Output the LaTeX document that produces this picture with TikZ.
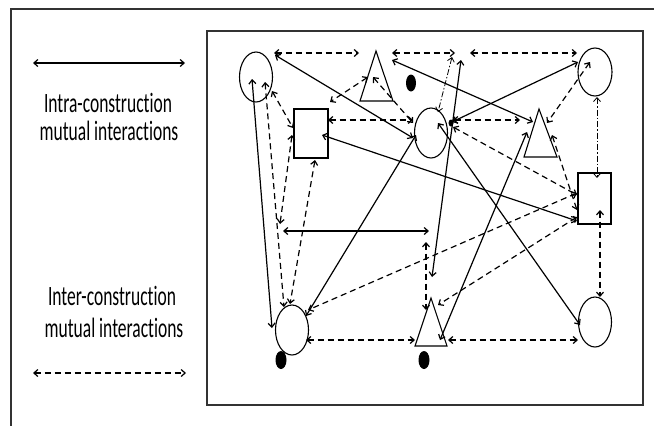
\documentclass[tikz,border=0pt]{standalone}
\usepackage{fontspec}
\setmainfont[Ligatures={NoCommon}]{Carlito}
\usetikzlibrary{arrows.meta,shapes.geometric}
\newcommand\mylink[4]{\coordinate (#2a) at #3; \coordinate (#2b) at #4; \draw[#1] (#2a) -- (#2b);}
\begin{document}
\begin{tikzpicture}[x=1pt,y=-1pt,
  every node/.style={inner sep=0pt, outer sep=0pt},
  shp/.style={draw, line width=1.1pt},
  ell/.style={shp, ellipse, minimum width=33pt, minimum height=50pt},
  box/.style={shp, rectangle, minimum width=34pt, minimum height=49pt},
  blob/.style={fill=black, ellipse, minimum width=10pt, minimum height=17pt},
  conn/.style={line width=1.2pt, {Straight Barb[length=4pt,width=7pt]}-{Straight Barb[length=4pt,width=7pt]}},
  sol/.style={conn},
  dsh/.style={conn, dash pattern=on 6pt off 4pt},
  dd/.style={conn, line width=0.8pt, dash pattern=on 6pt off 2pt on 1.5pt off 2pt},
  lbl/.style={font=\fontsize{17.5}{20}\selectfont, anchor=base}
]
\useasboundingbox (0,0) rectangle (654,426);
% frames
\coordinate (o1) at (11,426); \coordinate (o2) at (11,9); \coordinate (o3) at (654,9);
\draw[line width=1.4pt, black!80] (o1) -- (o2) -- (o3);
\coordinate (f1) at (207,31); \coordinate (f2) at (643,405);
\draw[line width=1.4pt, black!80] (f1) rectangle (f2);

% legend
\mylink{sol}{la}{(33,63)}{(185,63)}
\node[lbl] (l1) at (108,112) {\scalebox{1}[1.6]{Intra-construction}};
\node[lbl] (l2) at (109,140) {\scalebox{1}[1.6]{mutual interactions}};
\node[lbl] (l3) at (112,305) {\scalebox{1}[1.6]{Inter-construction}};
\node[lbl] (l4) at (114,337) {\scalebox{1}[1.6]{mutual interactions}};
\mylink{dsh}{lb}{(33,373)}{(186,373)}

% shapes
\node[ell] (C1) at (256,77) {};
\node[ell] (C2) at (431,133) {};
\node[ell, minimum width=34pt, minimum height=48pt] (C3) at (595,72) {};
\node[ell] (C4) at (292,330) {};
\node[ell] (C5) at (595,322) {};
\node[box] (R1) at (311,133.5) {};
\node[box, minimum width=33pt, minimum height=51pt] (R2) at (594.5,198.5) {};
\coordinate (T1a) at (376,51); \coordinate (T1b) at (393,101); \coordinate (T1c) at (360,101);
\draw[shp] (T1a) -- (T1b) -- (T1c) -- cycle;
\coordinate (T2a) at (539,109); \coordinate (T2b) at (557,157); \coordinate (T2c) at (524,157);
\draw[shp] (T2a) -- (T2b) -- (T2c) -- cycle;
\coordinate (T3a) at (431,298); \coordinate (T3b) at (447,346); \coordinate (T3c) at (415,346);
\draw[shp] (T3a) -- (T3b) -- (T3c) -- cycle;
\node[blob] (D1) at (411,83) {};
\node[blob, minimum width=11pt, minimum height=18pt] (D2) at (281,360) {};
\node[blob, minimum width=11pt, minimum height=18pt] (D3) at (424,360) {};
\node[fill=black, ellipse, minimum width=5pt, minimum height=7pt] (P) at (451,123) {};

% connectors
\mylink{dsh}{k1}{(274,53)}{(359,53)}
\mylink{dsh}{k2}{(392,53)}{(455,53)}
\mylink{dsh}{k3}{(470,53)}{(577,53)}
\mylink{dd}{k4}{(452,57)}{(438,112)}
\mylink{sol}{k5}{(275,55)}{(413,138)}
\mylink{dsh}{k6}{(272,91)}{(293,128)}
\mylink{dsh}{k7}{(328,120)}{(413,120)}
\mylink{dsh}{k8}{(368,77)}{(330,102)}
\mylink{dsh}{k9}{(373,77)}{(413,123)}
\mylink{sol}{k10}{(322,135)}{(577,221)}
\mylink{sol}{k11}{(252,79)}{(272,328)}
\mylink{dsh}{k12}{(265,82)}{(284,307)}
\mylink{dsh}{k13}{(315,160)}{(290,304)}
\mylink{dsh}{k14}{(292,135)}{(280,224)}
\mylink{sol}{k15}{(283,231)}{(429,231)}
\mylink{dsh}{k16}{(426,242)}{(426,310)}
\mylink{sol}{k17}{(416,135)}{(306,316)}
\mylink{sol}{k18}{(438,123)}{(580,325)}
\mylink{sol}{k19}{(461,60)}{(432,277)}
\mylink{sol}{k20}{(440,340)}{(527,132)}
\mylink{sol}{k21}{(578,62)}{(452,122)}
\mylink{sol}{k22}{(392,60)}{(533,122)}
\mylink{dsh}{k23}{(453,120)}{(520,120)}
\mylink{dsh}{k24}{(590,62)}{(547,123)}
\mylink{dd}{k25}{(597,97)}{(597,178)}
\mylink{dsh}{k26}{(600,210)}{(600,297)}
\mylink{dsh}{k27}{(552,135)}{(577,210)}
\mylink{dsh}{k28}{(453,127)}{(577,195)}
\mylink{dsh}{k29}{(577,193)}{(308,310)}
\mylink{dsh}{k30}{(577,217)}{(438,305)}
\mylink{dsh}{k31}{(306,340)}{(415,340)}
\mylink{dsh}{k32}{(448,340)}{(578,340)}
\end{tikzpicture}
\end{document}
